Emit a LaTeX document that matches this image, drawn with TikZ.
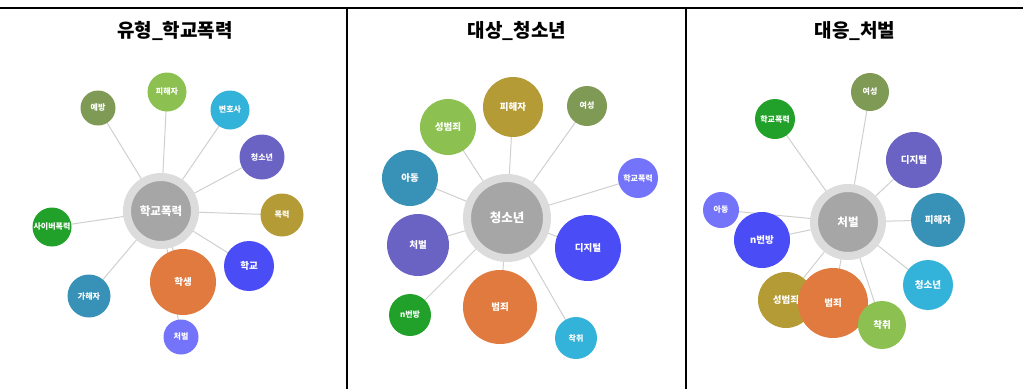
\documentclass[tikz,border=0pt]{standalone}
\usepackage{fontspec}
\setmainfont{Noto Sans CJK KR}
\usetikzlibrary{backgrounds}
\definecolor{cOlive}{HTML}{7F9A55}
\definecolor{cLGreen}{HTML}{8CC152}
\definecolor{cCyan}{HTML}{33B3DA}
\definecolor{cPurple}{HTML}{6B63C4}
\definecolor{cGold}{HTML}{B59B35}
\definecolor{cBlue}{HTML}{4A4CF5}
\definecolor{cOrange}{HTML}{E07A3E}
\definecolor{cLav}{HTML}{7474FA}
\definecolor{cTeal}{HTML}{3892B8}
\definecolor{cGreen}{HTML}{22A12A}
\definecolor{cCenter}{HTML}{A6A6A6}
\definecolor{cRing}{HTML}{DCDCDC}
\definecolor{cLink}{HTML}{CFCFCF}
\begin{document}
\begin{tikzpicture}[x=1pt,y=-1pt,
  bub/.style={circle, inner sep=0pt, text=white, font=\fontsize{8}{8}\selectfont\bfseries},
  bigbub/.style={bub, font=\fontsize{9.5}{9.5}\selectfont\bfseries},
  hub/.style={circle, inner sep=0pt, fill=cCenter, draw=cRing, line width=8pt, text=white, font=\fontsize{11.5}{11.5}\selectfont\bfseries},
  link/.style={draw=cLink, line width=1pt},
  frame/.style={line width=1.2pt, black},
  title/.style={font=\fontsize{19}{19}\selectfont\bfseries, text=black}]
\useasboundingbox (0,0) rectangle (1023,389);
% frame
\coordinate (tl) at (0,8); \coordinate (tr) at (1023,8);
\coordinate (d1t) at (347,8); \coordinate (d1b) at (347,389);
\coordinate (d2t) at (686,8); \coordinate (d2b) at (686,389);
\draw[frame] (tl) -- (tr);
\draw[frame] (d1t) -- (d1b);
\draw[frame] (d2t) -- (d2b);
% titles
\node[title] (t1) at (175,31) {유형\_학교폭력};
\node[title] (t2) at (517,31) {대상\_청소년};
\node[title] (t3) at (855,31) {대응\_처벌};

% ---------- panel 1 ----------
\node[hub, minimum size=68pt] (h1) at (161,211) {학교폭력};
\node[bub, fill=cOlive, minimum size=35pt] (a1) at (98,108) {예방};
\node[bub, fill=cLGreen, minimum size=39pt] (a2) at (167,92) {피해자};
\node[bub, fill=cCyan, minimum size=39pt] (a3) at (230,110) {변호사};
\node[bub, fill=cPurple, minimum size=45pt] (a4) at (262,157) {청소년};
\node[bub, fill=cGold, minimum size=43pt] (a5) at (282,215) {폭력};
\node[bigbub, fill=cBlue, minimum size=50pt] (a6) at (249,266) {학교};
\node[bigbub, fill=cOrange, minimum size=66pt] (a7) at (183,282) {학생};
\node[bub, fill=cLav, minimum size=35pt] (a8) at (181,337) {처벌};
\node[bub, fill=cTeal, minimum size=43pt] (a9) at (89,296) {가해자};
\node[bub, fill=cGreen, minimum size=39pt] (a10) at (52,227) {사이버폭력};
\begin{scope}[on background layer]
\foreach \n in {a1,a2,a3,a4,a5,a6,a7,a8,a9,a10} \draw[link] (h1.center) -- (\n.center);
\end{scope}

% ---------- panel 2 ----------
\node[hub, minimum size=80pt, font=\fontsize{12.5}{12.5}\selectfont\bfseries] (h2) at (507,218) {청소년};
\node[bigbub, fill=cLGreen, minimum size=56pt] (b1) at (448,127) {성범죄};
\node[bigbub, fill=cGold, minimum size=60pt] (b2) at (513,107) {피해자};
\node[bub, fill=cOlive, minimum size=40pt] (b3) at (587,106) {여성};
\node[bub, fill=cLav, minimum size=40pt] (b4) at (638,178) {학교폭력};
\node[bigbub, fill=cTeal, minimum size=56pt] (b5) at (410,178) {아동};
\node[bigbub, fill=cPurple, minimum size=62pt] (b6) at (418,245) {처벌};
\node[bigbub, fill=cBlue, minimum size=66pt] (b7) at (588,248) {디지털};
\node[bub, fill=cGreen, minimum size=42pt] (b8) at (410,315) {n번방};
\node[bigbub, fill=cOrange, minimum size=74pt] (b9) at (500,307) {범죄};
\node[bub, fill=cCyan, minimum size=42pt] (b10) at (576,338) {착취};
\begin{scope}[on background layer]
\foreach \n in {b1,b2,b3,b4,b5,b6,b7,b8,b9,b10} \draw[link] (h2.center) -- (\n.center);
\end{scope}

% ---------- panel 3 ----------
\node[hub, minimum size=68pt] (h3) at (848,222) {처벌};
\node[bub, fill=cGreen, minimum size=40pt] (c1) at (775,119) {학교폭력};
\node[bub, fill=cOlive, minimum size=38pt] (c2) at (870,92) {여성};
\node[bigbub, fill=cPurple, minimum size=56pt] (c3) at (914,160) {디지털};
\node[bigbub, fill=cTeal, minimum size=54pt] (c4) at (938,220) {피해자};
\node[bub, fill=cLav, minimum size=36pt] (c5) at (721,210) {아동};
\node[bigbub, fill=cBlue, minimum size=56pt] (c6) at (762,240) {n번방};
\node[bigbub, fill=cCyan, minimum size=50pt] (c7) at (928,285) {청소년};
\node[bigbub, fill=cGold, minimum size=56pt] (c8) at (786,300) {성범죄};
\node[bigbub, fill=cOrange, minimum size=70pt] (c9) at (833,303) {범죄};
\node[bigbub, fill=cLGreen, minimum size=48pt] (c10) at (882,325) {착취};
\begin{scope}[on background layer]
\foreach \n in {c1,c2,c3,c4,c5,c6,c7,c8,c9,c10} \draw[link] (h3.center) -- (\n.center);
\end{scope}
\end{tikzpicture}
\end{document}
